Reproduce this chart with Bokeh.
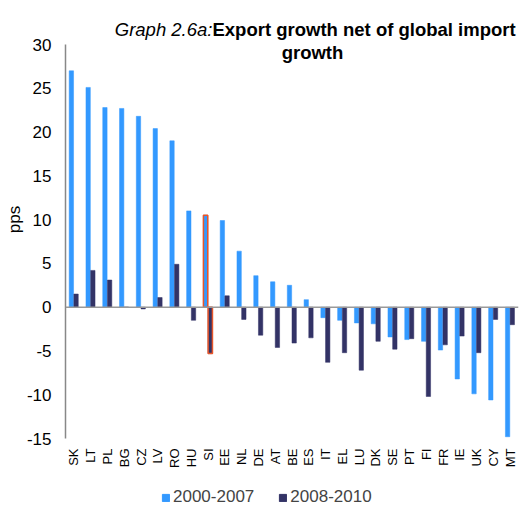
import math
from bokeh.plotting import figure
from bokeh.layouts import column
from bokeh.models import (ColumnDataSource, FactorRange, Range1d, Span, Label,
                          Legend, LegendItem, FixedTicker)
from bokeh.transform import dodge
from bokeh.embed import file_html
from bokeh.resources import INLINE

countries = ["SK", "LT", "PL", "BG", "CZ", "LV", "RO", "HU", "SI", "EE", "NL", "DE", "AT", "BE",
             "ES", "IT", "EL", "LU", "DK", "SE", "PT", "FI", "FR", "IE", "UK", "CY", "MT"]
growth_2000_2007 = [27.0, 25.1, 22.8, 22.7, 21.8, 20.4, 19.0, 11.0, 10.5, 9.9, 6.4, 3.6, 2.9, 2.5,
                    0.86, -1.2, -1.5, -1.8, -1.9, -3.4, -3.7, -3.9, -4.9, -8.2, -9.9, -10.6, -14.8]
growth_2008_2010 = [1.5, 4.2, 3.1, 0.0, -0.2, 1.1, 4.9, -1.5, -5.3, 1.3, -1.4, -3.2, -4.6, -4.1,
                    -3.5, -6.3, -5.2, -7.2, -3.9, -4.8, -3.6, -10.2, -4.3, -3.3, -5.2, -1.4, -2.0]
series_names = ["2000-2007", "2008-2010"]
highlight_country = "SI"
y_ticks = [-15, -10, -5, 0, 5, 10, 15, 20, 25, 30]
y_tick_labels = ["-15", "-10", "-5", "0", "5", "10", "15", "20", "25", "30"]

FONT = "Liberation Sans"
LIGHT = "#3399FF"
DARK = "#333366"
RED = "#E8562A"
W = 524

source = ColumnDataSource(dict(cat=countries, a=growth_2000_2007, b=growth_2008_2010))
hi = countries.index(highlight_country)
hsource = ColumnDataSource(dict(cat=[countries[hi]], a=[growth_2000_2007[hi]],
                                b=[growth_2008_2010[hi]]))

# frame spans the title area too (so the title texts are not clipped)
y_top = 35.03
p = figure(x_range=FactorRange(*countries), y_range=Range1d(y_ticks[0], y_top),
           width=W, height=487, output_backend="svg", toolbar_location=None,
           min_border_left=65, min_border_right=6, min_border_top=0, min_border_bottom=49)
p.outline_line_color = None
p.xgrid.visible = False
p.ygrid.visible = False

bw = 0.26
r1 = p.vbar(x=dodge("cat", -0.15, range=p.x_range), top="a", width=bw, source=source,
            fill_color=LIGHT, line_color=LIGHT, line_width=0.5)
r2 = p.vbar(x=dodge("cat", 0.13, range=p.x_range), top="b", width=bw, source=source,
            fill_color=DARK, line_color=DARK, line_width=0.5)
p.vbar(x=dodge("cat", -0.15, range=p.x_range), top="a", width=bw, source=hsource,
       fill_alpha=0, line_color=RED, line_width=1.5)
p.vbar(x=dodge("cat", 0.13, range=p.x_range), top="b", width=bw, source=hsource,
       fill_alpha=0, line_color=RED, line_width=1.5)

p.add_layout(Span(location=0, dimension="width", line_color="#999999", line_width=1.5))

# y axis
p.yaxis.ticker = FixedTicker(ticks=y_ticks)
p.yaxis.major_label_overrides = {t: s for t, s in zip(y_ticks, y_tick_labels)}
p.yaxis.bounds = (y_ticks[0], y_ticks[-1])
p.yaxis.axis_line_color = "#888888"
p.yaxis.axis_line_width = 1.5
p.yaxis.major_tick_line_color = None
p.yaxis.minor_tick_line_color = None
p.yaxis.major_tick_out = 0
p.yaxis.major_tick_in = 0
p.yaxis.major_label_standoff = 14
p.yaxis.major_label_text_font = FONT
p.yaxis.major_label_text_font_size = "17px"
p.yaxis.major_label_text_color = "black"
p.yaxis.axis_label = "pps"
p.yaxis.axis_label_standoff = 0
p.yaxis.axis_label_text_font = FONT
p.yaxis.axis_label_text_font_size = "17px"
p.yaxis.axis_label_text_font_style = "normal"
p.yaxis.axis_label_text_color = "black"

# x axis
p.xaxis.axis_line_color = None
p.xaxis.major_tick_line_color = None
p.xaxis.minor_tick_line_color = None
p.xaxis.major_tick_out = 0
p.xaxis.major_label_orientation = math.pi / 2
p.xaxis.major_label_standoff = 10
p.xaxis.major_label_text_font = FONT
p.xaxis.major_label_text_font_size = "13px"
p.xaxis.major_label_text_color = "black"

# title
p.add_layout(Label(x=8.76, y=31.71, text="Graph 2.6a:", text_align="right",
                   text_baseline="alphabetic", text_font=FONT, text_font_size="18.5px",
                   text_font_style="italic", text_color="black"))
p.add_layout(Label(x=8.76, y=31.71, text="Export growth net of global import", text_align="left",
                   text_baseline="alphabetic", text_font=FONT, text_font_size="18.5px",
                   text_font_style="bold", text_color="black"))
p.add_layout(Label(x=14.72, y=29.14, text="growth", text_align="center",
                   text_baseline="alphabetic", text_font=FONT, text_font_size="18.5px",
                   text_font_style="bold", text_color="black"))

# legend strip (renderers hidden; only their legend swatches are shown)
q = figure(width=W, height=20, output_backend="svg", toolbar_location=None,
           x_range=Range1d(0, 1), y_range=Range1d(0, 1),
           x_axis_location=None, y_axis_location=None,
           min_border_left=0, min_border_right=0, min_border_top=0, min_border_bottom=0)
q.grid.visible = False
q.outline_line_color = None
l1 = q.vbar(x="a", top="b", width=0.1, source=source, fill_color=LIGHT, line_color=LIGHT,
            visible=False)
l2 = q.vbar(x="a", top="b", width=0.1, source=source, fill_color=DARK, line_color=DARK,
            visible=False)
legend = Legend(items=[LegendItem(label=series_names[0], renderers=[l1]),
                       LegendItem(label=series_names[1], renderers=[l2])],
                orientation="horizontal", location=(96, 0),
                border_line_color=None, background_fill_alpha=0,
                inactive_fill_alpha=0,
                label_text_font=FONT, label_text_font_size="17px",
                glyph_width=9, glyph_height=9, label_standoff=3, spacing=24,
                padding=0, margin=0)
q.add_layout(legend)

layout = column(p, q, spacing=0)
open("out.html", "w").write(file_html(layout, INLINE))
